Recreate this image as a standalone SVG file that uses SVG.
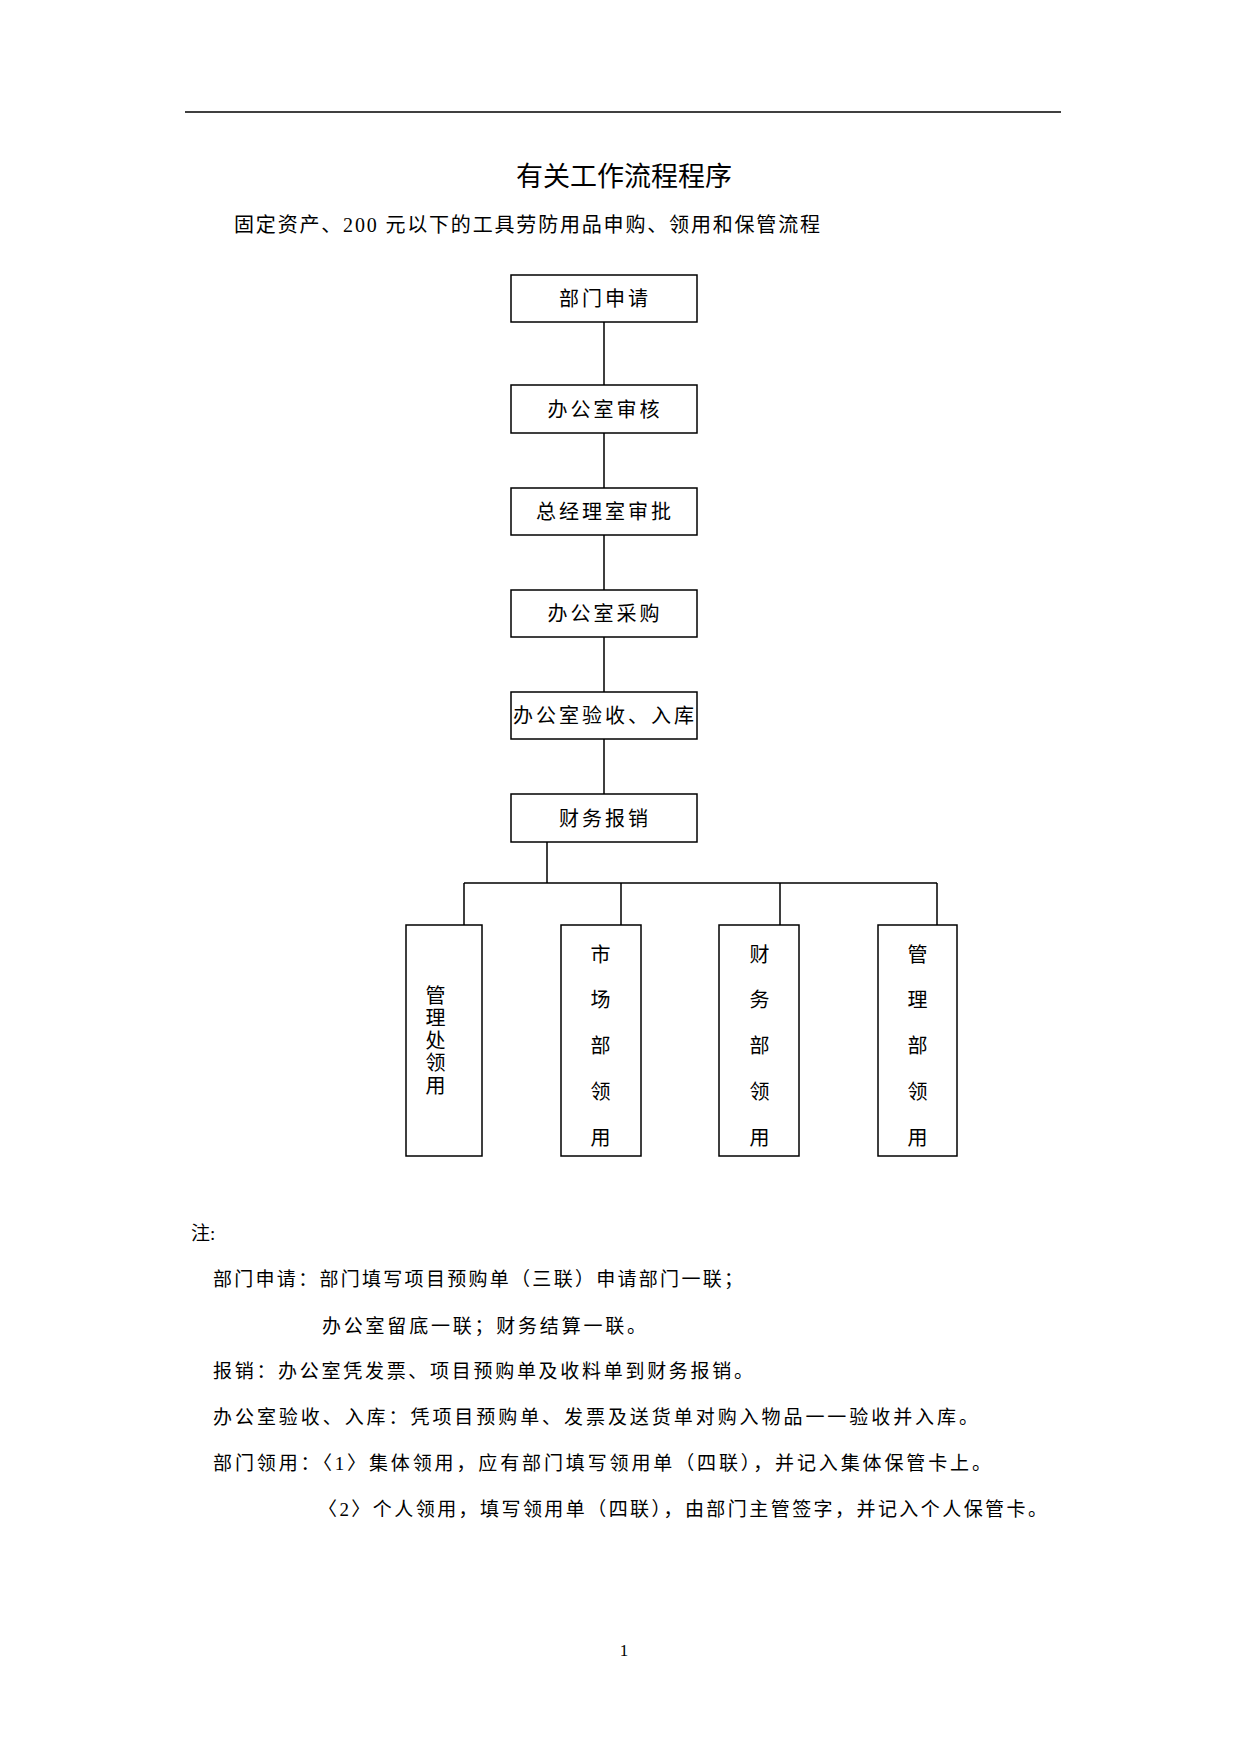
<svg xmlns="http://www.w3.org/2000/svg" width="1240" height="1753" viewBox="0 0 1240 1753">
<style>
text{font-family:"Liberation Serif","Noto Sans CJK SC",serif;fill:#000}
.b{fill:#fff;stroke:#000;stroke-width:1.5}
.c{stroke:#000;stroke-width:1.5;fill:none}
.t{font-size:20px;text-anchor:middle;letter-spacing:3px}
.n{font-size:19px}
</style>
<rect width="1240" height="1753" fill="#fff"/>
<line x1="185" y1="112" x2="1061" y2="112" class="c"/>
<text x="624" y="186" font-size="27" text-anchor="middle" font-family="Noto Sans CJK SC,sans-serif">有关工作流程程序</text>
<text x="234" y="232" font-size="20" textLength="586" lengthAdjust="spacing">固定资产、200 元以下的工具劳防用品申购、领用和保管流程</text>
<g id="connectors">
<path class="c" d="M604 322V385M604 433V488M604 535V590M604 637V692M604 739V794M547 842V883M464 883H937M464 883V925M621 883V925M780 883V925M937 883V925"/>
</g>
<g id="n1"><rect class="b" x="511" y="275" width="186" height="47"/><text class="t" x="605" y="306">部门申请</text></g>
<g id="n2"><rect class="b" x="511" y="385" width="186" height="48"/><text class="t" x="605" y="417">办公室审核</text></g>
<g id="n3"><rect class="b" x="511" y="488" width="186" height="47"/><text class="t" x="605" y="519">总经理室审批</text></g>
<g id="n4"><rect class="b" x="511" y="590" width="186" height="47"/><text class="t" x="605" y="621">办公室采购</text></g>
<g id="n5"><rect class="b" x="511" y="692" width="186" height="47"/><text class="t" x="605" y="723">办公室验收、入库</text></g>
<g id="n6"><rect class="b" x="511" y="794" width="186" height="48"/><text class="t" x="605" y="826">财务报销</text></g>
<g id="b1"><rect class="b" x="406" y="925" width="76" height="231"/>
<g class="t" font-size="20" text-anchor="middle"><text x="437" y="1003">管</text><text x="437" y="1025">理</text><text x="437" y="1048">处</text><text x="437" y="1070">领</text><text x="437" y="1093">用</text></g></g>
<g id="b2"><rect class="b" x="561" y="925" width="80" height="231"/>
<g class="t"><text x="602" y="962">市</text><text x="602" y="1007">场</text><text x="602" y="1053">部</text><text x="602" y="1099">领</text><text x="602" y="1145">用</text></g></g>
<g id="b3"><rect class="b" x="719" y="925" width="80" height="231"/>
<g class="t"><text x="761" y="962">财</text><text x="761" y="1007">务</text><text x="761" y="1053">部</text><text x="761" y="1099">领</text><text x="761" y="1145">用</text></g></g>
<g id="b4"><rect class="b" x="878" y="925" width="79" height="231"/>
<g class="t"><text x="919" y="962">管</text><text x="919" y="1007">理</text><text x="919" y="1053">部</text><text x="919" y="1099">领</text><text x="919" y="1145">用</text></g></g>
<g class="n">
<text x="191" y="1240">注:</text>
<text x="213" y="1286" textLength="530" lengthAdjust="spacing">部门申请：部门填写项目预购单（三联）申请部门一联；</text>
<text x="322" y="1333" textLength="324" lengthAdjust="spacing">办公室留底一联；财务结算一联。</text>
<text x="213" y="1378" textLength="540" lengthAdjust="spacing">报销：办公室凭发票、项目预购单及收料单到财务报销。</text>
<text x="213" y="1424" textLength="765" lengthAdjust="spacing">办公室验收、入库：凭项目预购单、发票及送货单对购入物品一一验收并入库。</text>
<text x="213" y="1470" textLength="778" lengthAdjust="spacing">部门领用：〈1〉集体领用，应有部门填写领用单（四联），并记入集体保管卡上。</text>
<text x="318" y="1516" textLength="729" lengthAdjust="spacing">〈2〉个人领用，填写领用单（四联），由部门主管签字，并记入个人保管卡。</text>
</g>
<text x="624" y="1656" font-size="17" text-anchor="middle">1</text>
</svg>
